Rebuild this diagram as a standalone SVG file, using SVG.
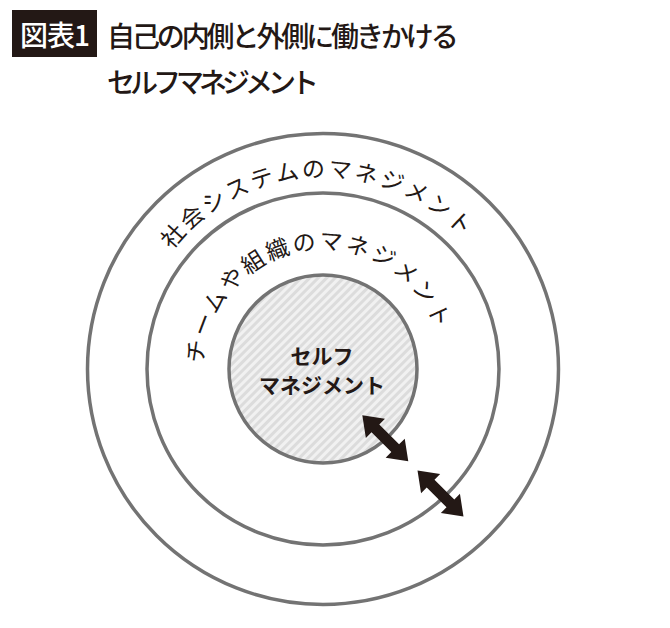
<svg xmlns="http://www.w3.org/2000/svg" xmlns:xlink="http://www.w3.org/1999/xlink" width="670" height="628" viewBox="0 0 670 628">
  <style>
    .ring { fill: none; stroke: #737373; stroke-width: 3.5; }
    .jp { font-family: "Noto Sans CJK JP", "Noto Sans CJK SC", sans-serif; }
    .arc { font-size: 23px; font-weight: 400; fill: #231815; letter-spacing: 2.6px; }
    .center { font-size: 21px; font-weight: 700; fill: #231815; text-anchor: middle; }
    .title { font-size: 28px; font-weight: 500; fill: #231815; }
    .arrow { fill: #231815; }
  </style>
  <defs>
    <pattern id="hatch" patternUnits="userSpaceOnUse" width="6" height="6" patternTransform="rotate(45)">
      <rect width="6" height="6" fill="#f1f1f1"/>
      <rect width="3" height="6" fill="#dcdcdc"/>
    </pattern>
    <path id="outerArc" d="M 130.55 376.56 A 192.6 192.6 0 0 1 515.45 361.44"/>
    <path id="middleArc" d="M 204.52 385.34 A 119.6 119.6 0 0 1 441.48 352.66"/>
    <polygon id="dblArrow" points="-32.5,0 -14,-13.5 -14,-5.5 14,-5.5 14,-13.5 32.5,0 14,13.5 14,5.5 -14,5.5 -14,13.5"/>
  </defs>
  <rect width="670" height="628" fill="#ffffff"/>

  <g id="title">
    <rect x="12" y="10" width="85" height="47" fill="#231815"/>
    <text class="jp" x="54.5" y="46" text-anchor="middle" font-size="28" font-weight="500" fill="#ffffff" letter-spacing="-1">図表1</text>
    <text class="jp title" x="107" y="47" letter-spacing="-3.1">自己の内側と外側に働きかける</text>
    <text class="jp title" x="107" y="93" letter-spacing="-5">セルフマネジメント</text>
  </g>

  <g id="node-society">
    <circle class="ring" cx="323" cy="369" r="235.5"/>
    <text class="jp arc"><textPath xlink:href="#outerArc" href="#outerArc" startOffset="50%" text-anchor="middle">社会システムのマネジメント</textPath></text>
  </g>

  <g id="node-team">
    <circle class="ring" cx="323" cy="369" r="176"/>
    <text class="jp arc"><textPath xlink:href="#middleArc" href="#middleArc" startOffset="50%" text-anchor="middle">チームや組織のマネジメント</textPath></text>
  </g>

  <g id="node-self">
    <circle cx="323" cy="369" r="94" fill="url(#hatch)" stroke="#737373" stroke-width="3.5"/>
    <text class="jp center" x="322" y="364">セルフ</text>
    <text class="jp center" x="322" y="393">マネジメント</text>
  </g>

  <g id="connectors">
    <use href="#dblArrow" xlink:href="#dblArrow" class="arrow" transform="translate(385.3 438.3) rotate(45)"/>
    <use href="#dblArrow" xlink:href="#dblArrow" class="arrow" transform="translate(440.5 493.5) rotate(45)"/>
  </g>
</svg>
